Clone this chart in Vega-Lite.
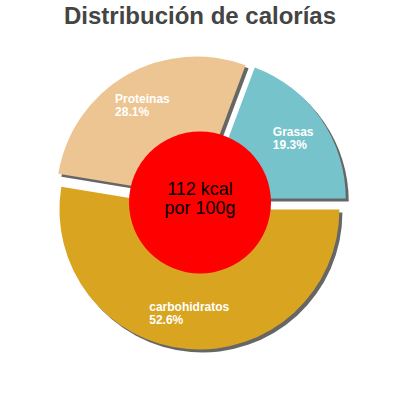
{
  "$schema": "https://vega.github.io/schema/vega-lite/v6.json",
  "width": 400,
  "height": 400,
  "autosize": {"type": "fit", "contains": "padding"},
  "padding": {"top": 5, "left": 0, "right": 0, "bottom": 0},
  "background": "white",
  "view": {"stroke": null},
  "title": {
    "text": "Distribución de calorías",
    "font": "Liberation Sans",
    "fontSize": 24,
    "fontWeight": "bold",
    "color": "#444444",
    "anchor": "middle",
    "offset": 8
  },
  "datasets": {
    "nutrientes": [
      {"nutriente": "Proteinas", "pct": 28.1},
      {"nutriente": "Grasas", "pct": 19.3},
      {"nutriente": "carbohidratos", "pct": 52.6}
    ],
    "centro": [
      {"energia": "112 kcal", "base": "por 100g"}
    ]
  },
  "layer": [
    {
      "data": {"name": "nutrientes"},
      "mark": {
        "type": "arc",
        "outerRadius": 140,
        "color": "#666666",
        "xOffset": {"expr": "3 + 7*sin((scale('theta', datum.pct_start) + scale('theta', datum.pct_end))/2)"},
        "yOffset": {"expr": "-13 - 7*cos((scale('theta', datum.pct_start) + scale('theta', datum.pct_end))/2)"}
      },
      "encoding": {
        "theta": {"field": "pct", "type": "quantitative", "stack": true, "scale": {"range": [1.5708, 7.854]}},
        "order": {"field": "nutriente", "sort": "descending"}
      }
    },
    {
      "data": {"name": "nutrientes"},
      "mark": {
        "type": "arc",
        "outerRadius": 140,
        "xOffset": {"expr": "7*sin((scale('theta', datum.pct_start) + scale('theta', datum.pct_end))/2)"},
        "yOffset": {"expr": "-16 - 7*cos((scale('theta', datum.pct_start) + scale('theta', datum.pct_end))/2)"}
      },
      "encoding": {
        "theta": {"field": "pct", "type": "quantitative", "stack": true},
        "order": {"field": "nutriente", "sort": "descending"},
        "color": {
          "field": "nutriente",
          "type": "nominal",
          "scale": {"domain": ["Proteinas", "Grasas", "carbohidratos"], "range": ["#ecc592", "#77c3cb", "#d9a521"]},
          "legend": null
        }
      }
    },
    {
      "data": {"name": "nutrientes"},
      "transform": [
        {"calculate": "[datum.nutriente, format(datum.pct, '.1f') + '%']", "as": "etiqueta"}
      ],
      "mark": {
        "type": "text",
        "radius": 112,
        "yOffset": -16,
        "dy": -3,
        "dx": {"expr": "-3.2*length(datum.nutriente)"},
        "font": "Liberation Sans",
        "fontSize": 12,
        "fontWeight": "bold",
        "lineHeight": 13,
        "color": "white",
        "align": "left",
        "baseline": "alphabetic"
      },
      "encoding": {
        "theta": {"field": "pct", "type": "quantitative", "stack": true},
        "order": {"field": "nutriente", "sort": "descending"},
        "text": {"field": "etiqueta"}
      }
    },
    {
      "data": {"name": "centro"},
      "mark": {"type": "arc", "theta": 0, "theta2": 6.2832, "outerRadius": 71, "color": "#ff0000", "yOffset": -16},
      "encoding": {}
    },
    {
      "data": {"name": "centro"},
      "transform": [
        {"calculate": "[datum.energia, datum.base]", "as": "lineas"}
      ],
      "mark": {
        "type": "text",
        "yOffset": -16,
        "dy": -8,
        "font": "Liberation Sans",
        "fontSize": 18,
        "color": "black",
        "align": "center",
        "baseline": "alphabetic",
        "lineHeight": 19
      },
      "encoding": {
        "text": {"field": "lineas"}
      }
    }
  ]
}
